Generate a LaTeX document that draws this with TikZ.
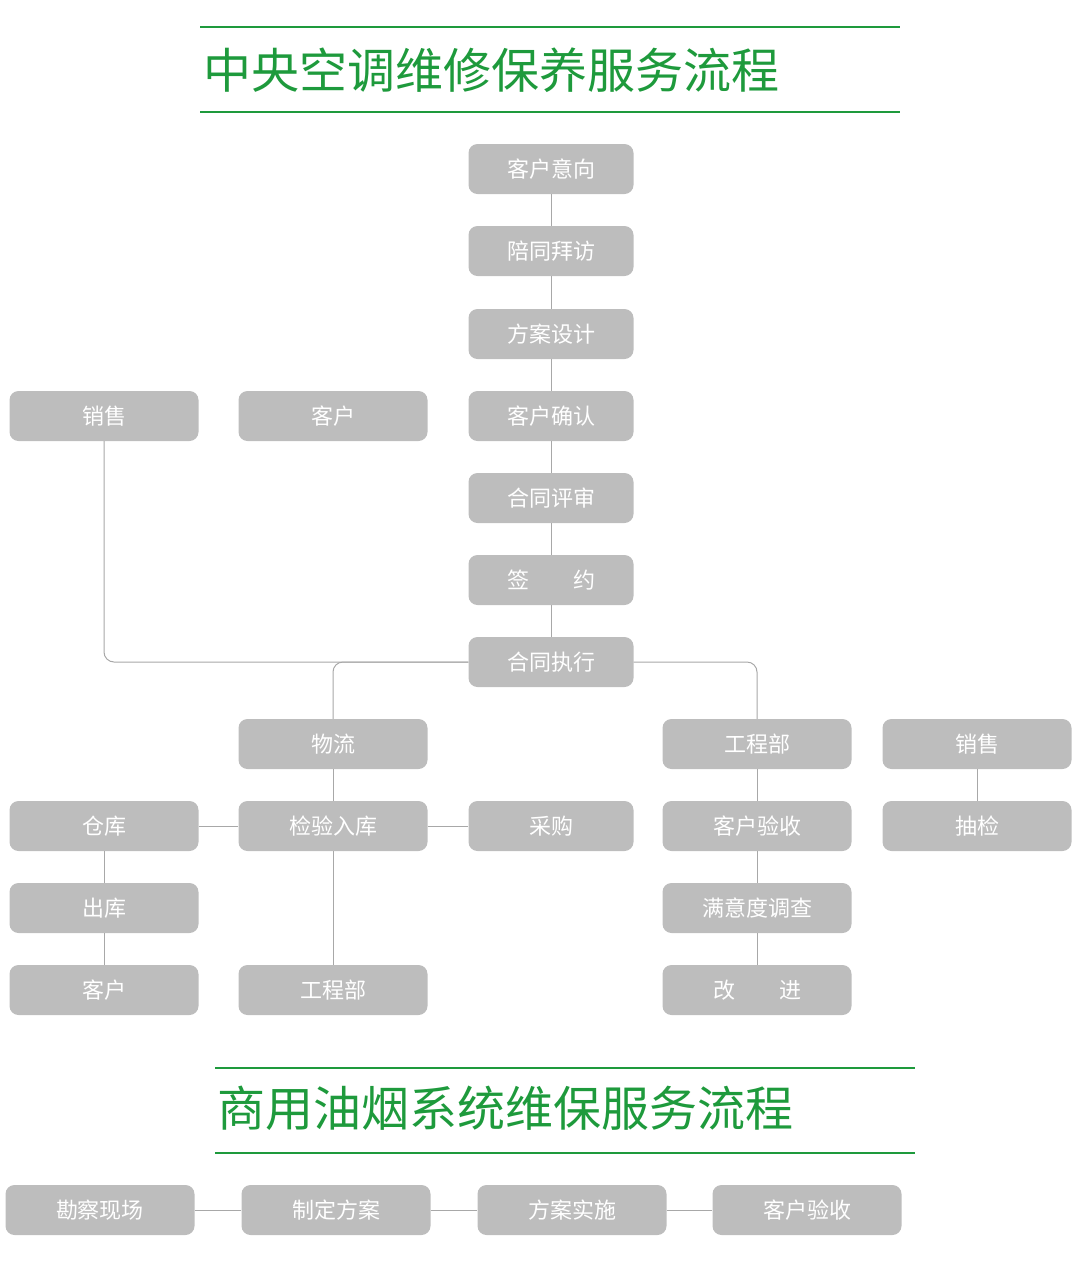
\documentclass[tikz,border=0pt]{standalone}
\usepackage{fontspec}
\setmainfont{Noto Sans CJK SC}
\usetikzlibrary{positioning}
\definecolor{boxgray}{HTML}{BDBDBD}
\definecolor{linegray}{HTML}{A8A8A8}
\definecolor{titlegreen}{HTML}{1E9A3C}
\begin{document}
\begin{tikzpicture}[x=1pt,y=-1pt,
    stepbox/.style={rectangle,rounded corners=9pt,fill=boxgray,text=white,minimum height=50pt,font=\fontsize{22}{24}\selectfont,inner sep=0pt},
    narrow/.style={stepbox,minimum width=165pt},
    wide/.style={stepbox,minimum width=189pt},
    link/.style={draw=linegray,line width=1pt,rounded corners=10pt},
    rule/.style={draw=titlegreen,line width=1.2pt},
    title/.style={text=titlegreen,font=\fontsize{48}{52}\selectfont,inner sep=0pt}
    ]
    \useasboundingbox (0,0) rectangle (1080,1262);
    % first title
    \draw[rule] (200,27) -- (900,27);
    \draw[rule] (200,112) -- (900,112);
    \node[title,anchor=west] (t1) at (203,70) {中央空调维修保养服务流程};
    % main column
    \node[narrow] (yx) at (551,169) {客户意向};
    \node[narrow] (pt) at (551,251) {陪同拜访};
    \node[narrow] (fa) at (551,334) {方案设计};
    \node[narrow] (qr) at (551,416) {客户确认};
    \node[narrow] (ps) at (551,498) {合同评审};
    \node[narrow] (qy) at (551,580) {签\hspace{2em}约};
    \node[narrow] (zx) at (551,662) {合同执行};
    \node[wide] (xs) at (104,416) {销售};
    \node[wide] (kh) at (333,416) {客户};
    % branches
    \node[wide] (wl) at (333,744) {物流};
    \node[wide] (jy) at (333,826) {检验入库};
    \node[narrow] (cg) at (551,826) {采购};
    \node[wide] (ck) at (104,826) {仓库};
    \node[wide] (chk) at (104,908) {出库};
    \node[wide] (kh2) at (104,990) {客户};
    \node[wide] (gc2) at (333,990) {工程部};
    \node[wide] (gc) at (757,744) {工程部};
    \node[wide] (ys) at (757,826) {客户验收};
    \node[wide] (my) at (757,908) {满意度调查};
    \node[wide] (gj) at (757,990) {改\hspace{2em}进};
    \node[wide] (xs2) at (977,744) {销售};
    \node[wide] (cj) at (977,826) {抽检};
    % connectors
    \begin{scope}[on background layer/.style={}]
    \foreach \a/\b in {yx/pt,pt/fa,fa/qr,qr/ps,ps/qy,qy/zx,wl/jy,jy/gc2,ck/chk,chk/kh2,gc/ys,ys/my,my/gj,xs2/cj}
        \draw[link] (\a.south) -- (\b.north);
    \draw[link] (ck.east) -- (jy.west);
    \draw[link] (jy.east) -- (cg.west);
    \draw[link] (xs.south) |- (zx.west);
    \draw[link] (zx.west) -| (wl.north);
    \draw[link] (zx.east) -| (gc.north);
    \end{scope}
    % second title
    \draw[rule] (215,1068) -- (915,1068);
    \draw[rule] (215,1153) -- (915,1153);
    \node[title,anchor=west] (t2) at (217,1108) {商用油烟系统维保服务流程};
    \node[wide] (kc) at (100,1210) {勘察现场};
    \node[wide] (zd) at (336,1210) {制定方案};
    \node[wide] (ss) at (572,1210) {方案实施};
    \node[wide] (ys2) at (807,1210) {客户验收};
    \foreach \a/\b in {kc/zd,zd/ss,ss/ys2}
        \draw[link] (\a.east) -- (\b.west);
\end{tikzpicture}
\end{document}
